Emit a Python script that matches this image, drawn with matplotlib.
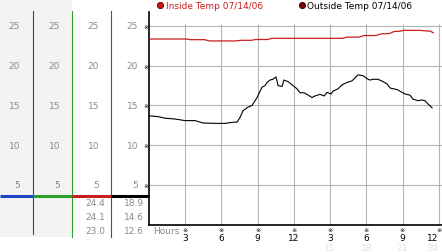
import matplotlib
matplotlib.use("Agg")
from matplotlib import pyplot as plt
import matplotlib.transforms as mtransforms

# temperature readings, hours since midnight
inside_hours = [0, 3.1, 3.4, 4.6, 5.0, 7.2, 7.6, 8.5, 8.8, 9.8, 10.2, 16.0, 16.4, 17.4,
                17.8, 18.8, 19.2, 19.9, 20.3, 20.8, 21.1, 22.4, 22.8, 23.3, 23.55]
inside_temp = [23.36, 23.36, 23.28, 23.28, 23.12, 23.12, 23.2, 23.2, 23.3, 23.3, 23.45,
               23.45, 23.6, 23.6, 23.8, 23.8, 24.0, 24.05, 24.3, 24.35, 24.45, 24.45,
               24.4, 24.35, 24.15]

outside_hours = [0, 0.75, 1.33, 2.15, 2.98, 3.81, 4.47, 5.47, 6.30, 6.96, 7.29, 7.54, 7.79,
                 8.20, 8.53, 8.95, 9.36, 9.61, 9.78, 10.02, 10.27, 10.52, 10.69, 11.02,
                 11.18, 11.52, 11.85, 12.26, 12.51, 12.84, 13.09, 13.50, 13.75, 14.17,
                 14.50, 14.75, 15.08, 15.24, 15.66, 15.99, 16.40, 16.82, 17.07, 17.32,
                 17.73, 18.14, 18.31, 18.56, 18.97, 19.39, 19.72, 19.97, 20.55, 20.96,
                 21.21, 21.62, 21.87, 22.29, 22.62, 22.87, 23.11, 23.45]
outside_temp = [13.7, 13.6, 13.4, 13.3, 13.1, 13.1, 12.8, 12.75, 12.75, 12.9, 12.9, 13.5,
                14.35, 14.8, 15.0, 16.0, 17.3, 17.5, 17.9, 18.2, 18.3, 18.6, 17.5, 17.4,
                18.2, 18.0, 17.6, 17.1, 16.6, 16.6, 16.4, 16.0, 16.2, 16.4, 16.2, 16.65,
                16.45, 16.8, 17.1, 17.6, 17.9, 18.1, 18.5, 18.85, 18.75, 18.3, 18.2, 18.3,
                18.3, 18.0, 17.7, 17.2, 17.0, 16.65, 16.45, 16.3, 15.8, 15.6, 15.7, 15.6,
                15.2, 14.7]

y_ticks = [5, 10, 15, 20, 25]
x_ticks = [3, 6, 9, 12, 15, 18, 21, 24]
x_labels = ["3", "6", "9", "12", "3", "6", "9", "12"]
x_labels_24 = ["15", "18", "21", "24"]

inside_stats = ["24.4", "24.1", "23.0"]
outside_stats = ["18.9", "14.6", "12.6"]
legend_labels = ["Inside Temp 07/14/06", "Outside Temp 07/14/06"]

RED = "#c81e1e"
BLUE = "#1f44c4"
GREEN = "#2ca02c"
GRAY_TXT = "#8a8a8a"
GRID = "#b4b4b4"
FS = 6.5

W, H = 442, 253
fig = plt.figure(figsize=(W / 100, H / 100), dpi=100)

# overlay in pixel coords for the frame decorations
ov = fig.add_axes([0, 0, 1, 1], zorder=0)
ov.set_xlim(0, W)
ov.set_ylim(H, 0)
ov.axis("off")

# main plot: x=149 is hour 0, ~12.07 px per hour; y=225.75 is 0, ~7.95 px per degree
ax = fig.add_axes([149 / W, (H - 225.75) / H, 293 / W, 212.75 / H], zorder=2)
ax.patch.set_alpha(0)
ax.set_xlim(0, 24.27)
ax.set_ylim(0, 26.76)
for s in ["top", "right"]:
    ax.spines[s].set_visible(False)
ax.spines["left"].set_linewidth(1.2)
ax.spines["bottom"].set_linewidth(1.2)
ax.set_xticks([])
ax.set_yticks(y_ticks, labels=["\u203b"] * len(y_ticks), fontsize=4.5)
ax.tick_params(axis="y", length=0, pad=0.5)

ax.hlines(y_ticks, 0, 24.27, color=GRID, lw=0.8, clip_on=False, zorder=1)
ax.vlines(x_ticks, 0, 25.25, color=GRID, lw=0.8, clip_on=False, zorder=1)

ax.plot(inside_hours, inside_temp, color=RED, lw=0.9, zorder=3)
ax.plot(outside_hours, outside_temp, color="black", lw=0.8, zorder=3)

# x labels (the last one sits against the right edge)
bx = mtransforms.blended_transform_factory(ax.transData, ov.transData)
for h, lab in zip(x_ticks, x_labels):
    ax.text(h, 230.5, "\u203b", transform=bx, ha="center", va="center", fontsize=4.5)
    if h == x_ticks[-1]:
        ax.text(h, 238.5, lab, transform=bx, ha="right", va="center", fontsize=FS)
    else:
        ax.text(h, 238.5, lab, transform=bx, ha="center", va="center", fontsize=FS)
for h, lab in zip(x_ticks[4:], x_labels_24):
    ha = "right" if h == x_ticks[-1] else "center"
    ax.text(h, 244, lab, transform=bx, ha=ha, va="top", fontsize=FS, color="#e2e2e2")
ov.text(153, 232, "Hours", ha="left", va="center", fontsize=FS, color=GRAY_TXT)

# left panel
ov.fill_between([0, 72], 0, 238, color="#f3f3f3", lw=0, zorder=0)
for x, c, yb in [(33, BLUE, 235), (72, GREEN, 238), (111, RED, 238)]:
    ov.plot([x, x], [12, yb], color=c, lw=0.8, zorder=2)
for x0, x1, c in [(0, 33, BLUE), (33, 72, GREEN), (72, 111, RED), (111, 149, "black")]:
    ov.plot([x0, x1], [196.5, 196.5], color=c, lw=2.2, solid_capstyle="butt", zorder=3)

by = mtransforms.blended_transform_factory(ov.transData, ax.transData)
for xr in [20, 60, 99, 138]:
    for v in y_ticks:
        ov.text(xr, v, str(v), transform=by, ha="right", va="center",
                fontsize=FS, color=GRAY_TXT)

for i, (a, b) in enumerate(zip(inside_stats, outside_stats)):
    yy = 204 + 14 * i
    ov.text(105, yy, a, ha="right", va="center", fontsize=FS, color=GRAY_TXT)
    ov.text(144, yy, b, ha="right", va="center", fontsize=FS, color=GRAY_TXT)

# legend
ov.plot(160, 6, "o", ms=4.5, color="#d01010", mec="#600000", mew=0.6)
ov.text(166, 6.5, legend_labels[0], ha="left", va="center", fontsize=FS, color=RED)
ov.plot(302, 6, "o", ms=4.5, color="#800000", mec="#300000", mew=0.6)
ov.text(307, 6.5, legend_labels[1], ha="left", va="center", fontsize=FS, color="black")

fig.savefig("out.png", dpi=100)
